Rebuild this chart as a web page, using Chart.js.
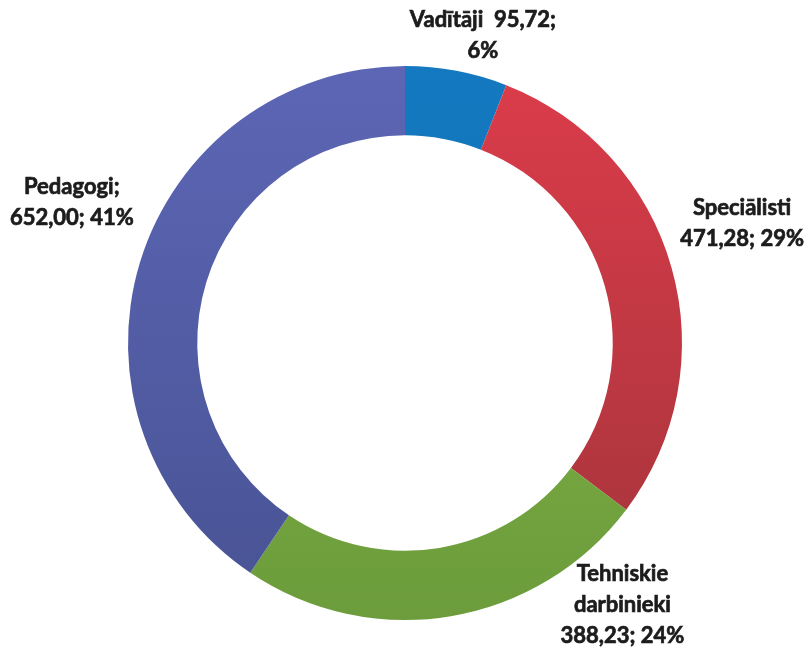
<!DOCTYPE html>
<html>
<head>
<meta charset="utf-8">
<script src="https://cdn.jsdelivr.net/npm/chart.js@4"></script>
<style>
  html, body { margin: 0; padding: 0; background: #fff; }
  #wrap { width: 806px; height: 647px; position: relative; }
</style>
</head>
<body>
<div id="wrap"><canvas id="staffChart"></canvas></div>
<script>
// amatu vienības pa grupām
const categories = ['Vadītāji', 'Speciālisti', 'Tehniskie darbinieki', 'Pedagogi'];
const values = [95.72, 471.28, 388.23, 652.00];

// label text layout (how each label is broken into lines)
const labelLines = [
    (n, v, p) => [n + '  ' + v + ';', p],
    (n, v, p) => [n, v + '; ' + p],
    (n, v, p) => ['Tehniskie', 'darbinieki', v + '; ' + p],
    (n, v, p) => [n + ';', v + '; ' + p]
];

const topColors = ['#1479c0', '#dc3c4a', '#86ba4c', '#5c66b5'];
const bottomColors = ['#0f6fae', '#a3343b', '#6c9c3b', '#485394'];
const labelOffsets = [[19, 4], [32, -33], [165, -51], [-30, -48]];

function segmentColor(ctx) {
    const chart = ctx.chart;
    const area = chart.chartArea;
    const i = ctx.dataIndex;
    if (!area) return topColors[i];
    const g = chart.ctx.createLinearGradient(0, area.top, 0, area.bottom);
    g.addColorStop(0, topColors[i]);
    g.addColorStop(1, bottomColors[i]);
    return g;
}

const outsideLabels = {
    id: 'outsideLabels',
    afterDatasetsDraw(chart) {
        const ctx = chart.ctx;
        const meta = chart.getDatasetMeta(0);
        const data = chart.data.datasets[0].data;
        const total = data.reduce((a, b) => a + b, 0);
        ctx.save();
        ctx.font = 'bold 22px Lato';
        ctx.fillStyle = '#1c1c1c';
        ctx.strokeStyle = '#1c1c1c';
        ctx.lineWidth = 0.7;
        ctx.textAlign = 'center';
        ctx.textBaseline = 'middle';
        const lh = 31;
        meta.data.forEach((arc, i) => {
            const mid = (arc.startAngle + arc.endAngle) / 2;
            const r = arc.outerRadius + 40;
            const x = arc.x + Math.cos(mid) * r + labelOffsets[i][0];
            const y = arc.y + Math.sin(mid) * r + labelOffsets[i][1];
            const v = data[i].toFixed(2).replace('.', ',');
            const p = Math.round(data[i] / total * 100) + '%';
            const lines = labelLines[i](chart.data.labels[i], v, p);
            const y0 = y - (lines.length - 1) * lh / 2;
            lines.forEach((t, k) => {
                ctx.fillText(t, x, y0 + k * lh);
                ctx.strokeText(t, x, y0 + k * lh);
            });
        });
        ctx.restore();
    }
};

function initializeChart() {
    const c = document.getElementById('staffChart');
    c.width = 806;
    c.height = 647;
    new Chart(c.getContext('2d'), {
        type: 'doughnut',
        data: {
            labels: categories,
            datasets: [{
                data: values,
                backgroundColor: segmentColor,
                borderWidth: 0
            }]
        },
        options: {
            responsive: false,
            animation: false,
            cutout: '75%',
            layout: {
                padding: { top: 66, bottom: 27, left: 4, right: 0 }
            },
            plugins: {
                legend: { display: false },
                tooltip: { enabled: false }
            }
        },
        plugins: [outsideLabels]
    });
}

document.addEventListener('DOMContentLoaded', initializeChart);
</script>
</body>
</html>
